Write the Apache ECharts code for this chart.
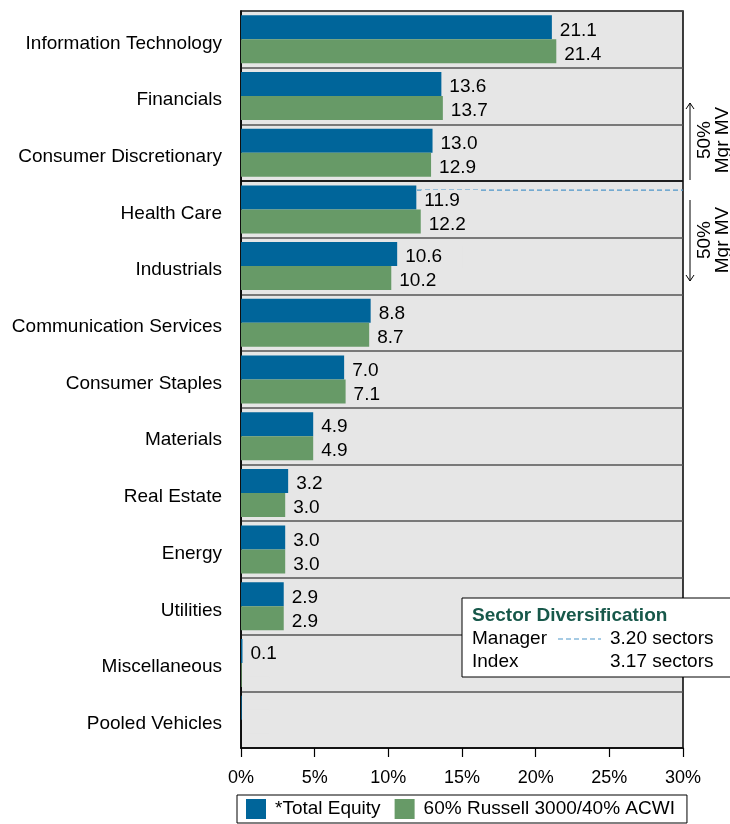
<!DOCTYPE html>
<html><head><meta charset="utf-8">
<script src="https://cdn.jsdelivr.net/npm/echarts@6/dist/echarts.min.js"></script>
<style>html,body{margin:0;padding:0;background:#fff}#c{width:730px;height:824px}</style>
</head><body><div id="c"></div>
<script>
const categories = ['Information Technology','Financials','Consumer Discretionary','Health Care','Industrials','Communication Services','Consumer Staples','Materials','Real Estate','Energy','Utilities','Miscellaneous','Pooled Vehicles'];
const totalEquity = [21.1,13.6,13.0,11.9,10.6,8.8,7.0,4.9,3.2,3.0,2.9,0.1,0.05];
const benchmark   = [21.4,13.7,12.9,12.2,10.2,8.7,7.1,4.9,3.0,3.0,2.9,0.05,0.0];
const seriesNames = ['*Total Equity','60% Russell 3000/40% ACWI'];
const xTicks = {min:0, max:30, interval:5};
const medianBoundary = 3;      // boundary between Consumer Discretionary and Health Care
const managerLinePos = 3.16;   // dashed manager diversification line position (in category units)
const diversification = {manager:'3.20 sectors', index:'3.17 sectors'};

const FONT = 'Liberation Sans, Arial, sans-serif';
const FS = 19;
const chart = echarts.init(document.getElementById('c'), null, {renderer:'canvas'});
const labelCfg = {
  show:true, position:'right', distance:5, color:'#000', fontSize:FS, fontFamily:FONT,
  backgroundColor:'#e6e6e6', padding:[1,20,1,3], offset:[0,3],
  formatter: p => p.value >= 0.1 ? p.value.toFixed(1) : ''
};
chart.setOption({
  animation:false,
  textStyle:{fontFamily:FONT},
  grid:{left:241, right:47, top:11, bottom:76, show:true, backgroundColor:'#e6e6e6', borderColor:'#000', borderWidth:1.5},
  xAxis:{type:'value', min:xTicks.min, max:xTicks.max, interval:xTicks.interval,
    axisLabel:{formatter:'{value}%', color:'#000', fontSize:18, margin:21, fontFamily:FONT},
    axisLine:{show:true, onZero:false, lineStyle:{color:'#000', width:1.5}},
    axisTick:{show:true, length:9, lineStyle:{color:'#000', width:1.2}},
    splitLine:{show:false}},
  yAxis:[{type:'category', data:categories, inverse:true,
    axisLabel:{color:'#000', fontSize:FS, margin:19, fontFamily:FONT,
      formatter: v => '{a|' + v + '}',
      rich:{a:{fontSize:FS, fontFamily:FONT, color:'#000', padding:[8,0,0,0]}}},
    axisLine:{show:true, lineStyle:{color:'#000', width:1.5}},
    axisTick:{show:false},
    splitLine:{show:true, lineStyle:{color:'#555', width:1.5}}},
   {type:'value', min:0, max:categories.length, inverse:true, show:false}],
  legend:{bottom:1, left:237, itemWidth:20, itemHeight:20, itemGap:14,
    borderColor:'#000', borderWidth:1, padding:[4,12,4,9],
    textStyle:{fontSize:FS, color:'#000', fontFamily:FONT, padding:[0,0,0,4]},
    data:[{name:seriesNames[0], icon:'rect'},{name:seriesNames[1], icon:'rect'}]},
  series:[
    {type:'line', yAxisIndex:1, data:[[xTicks.min,managerLinePos],[xTicks.max,managerLinePos]], showSymbol:false, silent:true,
     lineStyle:{color:'#4f97c9', width:1.2, type:[5,3]}, z:1},
    {type:'line', yAxisIndex:1, data:[[xTicks.min,medianBoundary],[xTicks.max,medianBoundary]], showSymbol:false, silent:true,
     lineStyle:{color:'#000', width:1.5}, z:1},
    {name:seriesNames[0], type:'bar', data:totalEquity, barWidth:24, barGap:'0%', itemStyle:{color:'#00659a'}, label:labelCfg, z:3},
    {name:seriesNames[1], type:'bar', data:benchmark, barWidth:24, barGap:'0%', itemStyle:{color:'#679a67'}, label:labelCfg, z:3}
  ],
  graphic:[
    {type:'line', shape:{x1:690,y1:103,x2:690,y2:180}, style:{stroke:'#000', lineWidth:1}},
    {type:'polyline', shape:{points:[[686,109],[690,103],[694,109]]}, style:{stroke:'#000', fill:null, lineWidth:1}},
    {type:'line', shape:{x1:690,y1:200,x2:690,y2:281}, style:{stroke:'#000', lineWidth:1}},
    {type:'polyline', shape:{points:[[686,275],[690,281],[694,275]]}, style:{stroke:'#000', fill:null, lineWidth:1}},
    {type:'text', x:714, y:140, rotation:Math.PI/2, style:{text:'50%\nMgr MV', fontSize:FS, fontFamily:FONT, fill:'#000', align:'center', verticalAlign:'middle', lineHeight:18}},
    {type:'text', x:714, y:240, rotation:Math.PI/2, style:{text:'50%\nMgr MV', fontSize:FS, fontFamily:FONT, fill:'#000', align:'center', verticalAlign:'middle', lineHeight:18}},
    {type:'rect', shape:{x:462,y:598,width:290,height:79}, style:{fill:'#fff', stroke:'#000', lineWidth:1}, z:50},
    {type:'text', x:472, y:616, z:51, style:{text:'Sector Diversification', fontSize:FS, fontWeight:'bold', fontFamily:FONT, fill:'#17584a', verticalAlign:'middle'}},
    {type:'text', x:472, y:639, z:51, style:{text:'Manager', fontSize:FS, fontFamily:FONT, fill:'#000', verticalAlign:'middle'}},
    {type:'line', z:51, shape:{x1:558,y1:639,x2:601,y2:639}, style:{stroke:'#4f97c9', lineWidth:1.2, lineDash:[5,3]}},
    {type:'text', x:610, y:639, z:51, style:{text:diversification.manager, fontSize:FS, fontFamily:FONT, fill:'#000', verticalAlign:'middle'}},
    {type:'text', x:472, y:662, z:51, style:{text:'Index', fontSize:FS, fontFamily:FONT, fill:'#000', verticalAlign:'middle'}},
    {type:'text', x:610, y:662, z:51, style:{text:diversification.index, fontSize:FS, fontFamily:FONT, fill:'#000', verticalAlign:'middle'}}
  ]
});
</script></body></html>
